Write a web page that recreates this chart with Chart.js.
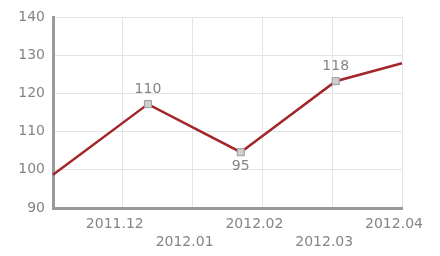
<!DOCTYPE html>
<html>
<head>
<meta charset="utf-8">
<script src="https://cdn.jsdelivr.net/npm/chart.js@4/dist/chart.umd.min.js"></script>
<style>
html,body{margin:0;padding:0;background:#fff;}
canvas{display:block;}
</style>
</head>
<body>
<canvas id="c" width="440" height="256"></canvas>
<script>
// Data
const monthLabels = ['2011.12', '2012.01', '2012.02', '2012.03', '2012.04'];
const pointX = [0, 1.36, 2.69, 4.05, 5];
const pointY = [98.7, 117.2, 104.6, 123.2, 127.9];
const pointText = ['', '110', '95', '118', ''];
const labelAbove = [true, true, false, true, true];
const yTicks = [90, 100, 110, 120, 130, 140];

const textColor = '#858585';
const fontSpec = { family: 'DejaVu Sans', size: 14 };

const dataLabelPlugin = {
  id: 'dataLabels',
  afterDatasetsDraw(chart) {
    const ctx = chart.ctx;
    const meta = chart.getDatasetMeta(0);
    ctx.save();
    ctx.font = '14px "DejaVu Sans"';
    ctx.fillStyle = textColor;
    ctx.textAlign = 'center';
    ctx.textBaseline = 'middle';
    meta.data.forEach((pt, i) => {
      const t = pointText[i];
      if (!t) return;
      const dy = labelAbove[i] ? -15 : 14;
      ctx.fillText(t, pt.x, pt.y + dy);
    });
    ctx.restore();
  }
};

new Chart(document.getElementById('c'), {
  type: 'line',
  data: {
    datasets: [{
      data: pointX.map((x, i) => ({ x: x, y: pointY[i] })),
      borderColor: '#a3262b',
      borderWidth: 2.5,
      tension: 0,
      pointStyle: 'rect',
      pointRadius: pointText.map(t => t ? 5 : 0),
      pointBackgroundColor: '#cfcfcf',
      pointBorderColor: '#9a9a9a',
      pointBorderWidth: 1,
      clip: false
    }]
  },
  options: {
    responsive: false,
    animation: false,
    layout: { padding: { left: 0, right: 38, top: 17, bottom: 0 } },
    plugins: { legend: { display: false }, tooltip: { enabled: false } },
    scales: {
      x: {
        type: 'linear',
        min: 0,
        max: 5,
        afterBuildTicks(scale) {
          scale.ticks = [0, 1, 2, 3, 4, 5].map(v => ({ value: v }));
        },
        afterFit(scale) { scale.height = 48; },
        grid: { color: '#e4e4e4', lineWidth: 1, drawTicks: false },
        border: { color: '#9a9a9a', width: 3 },
        ticks: {
          color: textColor,
          font: { family: 'DejaVu Sans', size: 14, lineHeight: 1.25 },
          padding: 8,
          labelOffset: -8,
          maxRotation: 0,
          autoSkip: false,
          callback(v) {
            const i = Math.round(v) - 1;
            if (i < 0 || i >= monthLabels.length) return '';
            return i % 2 === 0 ? [monthLabels[i], ''] : ['', monthLabels[i]];
          }
        }
      },
      y: {
        min: 90,
        max: 140,
        afterBuildTicks(scale) {
          scale.ticks = yTicks.map(v => ({ value: v }));
        },
        afterFit(scale) { scale.width = 53; },
        grid: { color: '#e4e4e4', lineWidth: 1, drawTicks: false },
        border: { color: '#9a9a9a', width: 3 },
        ticks: {
          color: textColor,
          font: fontSpec,
          padding: 8
        }
      }
    }
  },
  plugins: [dataLabelPlugin]
});
</script>
</body>
</html>
